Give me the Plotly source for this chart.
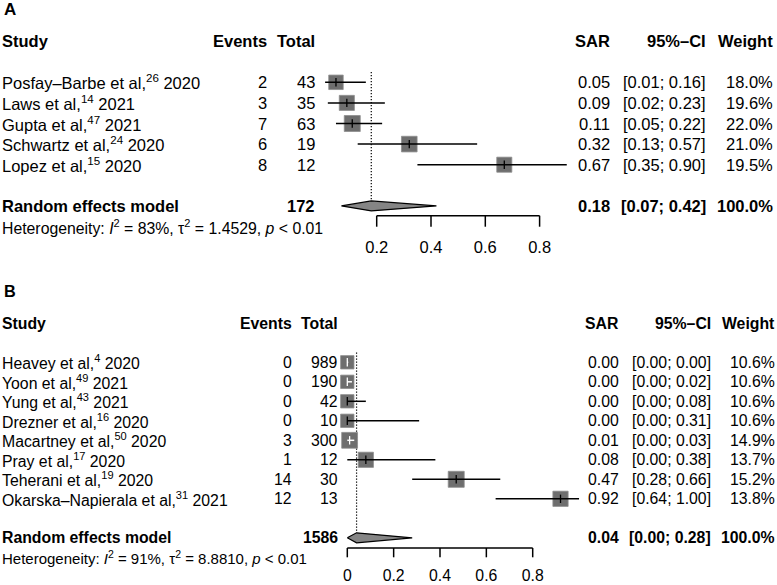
import math
import plotly.graph_objects as go

# ---------------- data: panel A ----------------
study_a = ["Posfay–Barbe et al", "Laws et al", "Gupta et al", "Schwartz et al", "Lopez et al"]
ref_a = [26, 14, 47, 24, 15]
year_a = [2020, 2021, 2021, 2020, 2020]
events_a = [2, 3, 7, 6, 8]
total_a = [43, 35, 63, 19, 12]
sar_a = [0.05, 0.09, 0.11, 0.32, 0.67]
lower_a = [0.01, 0.02, 0.05, 0.13, 0.35]
upper_a = [0.16, 0.23, 0.22, 0.57, 0.90]
weight_a = [18.0, 19.6, 22.0, 21.0, 19.5]
re_total_a = 172
re_sar_a = 0.18
re_lower_a = 0.07
re_upper_a = 0.42
re_weight_a = 100.0
i2_a = 83
tau2_a = 1.4529
ticks_a = [0.2, 0.4, 0.6, 0.8]
tick_labels_a = ["0.2", "0.4", "0.6", "0.8"]

# ---------------- data: panel B ----------------
study_b = ["Heavey et al", "Yoon et al", "Yung et al", "Drezner et al",
           "Macartney et al", "Pray et al", "Teherani et al", "Okarska–Napierala et al"]
ref_b = [4, 49, 43, 16, 50, 17, 19, 31]
year_b = [2020, 2021, 2021, 2020, 2020, 2020, 2020, 2021]
events_b = [0, 0, 0, 0, 3, 1, 14, 12]
total_b = [989, 190, 42, 10, 300, 12, 30, 13]
sar_b = [0.00, 0.00, 0.00, 0.00, 0.01, 0.08, 0.47, 0.92]
lower_b = [0.00, 0.00, 0.00, 0.00, 0.00, 0.00, 0.28, 0.64]
upper_b = [0.004, 0.02, 0.08, 0.31, 0.03, 0.38, 0.66, 1.00]
weight_b = [10.6, 10.6, 10.6, 10.6, 14.9, 13.7, 15.2, 13.8]
re_total_b = 1586
re_sar_b = 0.04
re_lower_b = 0.00
re_upper_b = 0.28
re_weight_b = 100.0
i2_b = 91
tau2_b = 8.8810
ticks_b = [0, 0.2, 0.4, 0.6, 0.8]
tick_labels_b = ["0", "0.2", "0.4", "0.6", "0.8"]

# ---------------- layout constants ----------------
W, H = 777, 585
FONT = "Liberation Sans, Arial, Helvetica, sans-serif"
SQ_COLOR = "#6e6e6e"
SQ_EDGE = "#8e8e8e"
DIA_COLOR = "#858585"

panels = [
    dict(label="A", study=study_a, ref=ref_a, year=year_a, events=events_a, total=total_a,
         sar=sar_a, lo=lower_a, hi=upper_a, w=weight_a,
         re=(re_total_a, re_sar_a, re_lower_a, re_upper_a, re_weight_a), i2=i2_a, tau2=tau2_a,
         ticks=ticks_a, tlabels=tick_labels_a,
         x0=322.4, pxu=271.5, row1=82.3, rowh=20.6, fs=16.5, fs_het=15.8,
         c_ev=267.5, c_tot=315.5, c_sar=610.5, c_ci=707.0, c_w=773.5,
         re_row=7, het_row=8, head_row=-1, lab_row=-2.53,
         axis_row=7.476, tick_end=8.01, tlab_row=9.09, xa="x", ya="y"),
    dict(label="B", study=study_b, ref=ref_b, year=year_b, events=events_b, total=total_b,
         sar=sar_b, lo=lower_b, hi=upper_b, w=weight_b,
         re=(re_total_b, re_sar_b, re_lower_b, re_upper_b, re_weight_b), i2=i2_b, tau2=tau2_b,
         ticks=ticks_b, tlabels=tick_labels_b,
         x0=347.3, pxu=231.75, row1=362.3, rowh=19.5, fs=15.8, fs_het=15.0,
         c_ev=293.0, c_tot=338.5, c_sar=620.0, c_ci=712.0, c_w=775.5,
         re_row=10, het_row=11, head_row=-1, lab_row=-2.66,
         axis_row=10.523, tick_end=11.0, tlab_row=12.03, xa="x2", ya="y2"),
]

fig = go.Figure()
annotations = []


def ann(text, xpx, row, yref, size, anchor="left", bold=False):
    annotations.append(dict(
        text=text,
        x=xpx / W, xref="paper", y=row, yref=yref,
        xanchor=anchor, yanchor="middle", showarrow=False,
        font=dict(family=FONT, size=size, color="black",
                  weight="bold" if bold else "normal"), borderpad=0))


layout_axes = {}
for i, p in enumerate(panels):
    xa, ya = p["xa"], p["ya"]
    n = len(p["study"])
    rows = list(range(1, n + 1))
    pxu = p["pxu"]
    re_total, re_est, re_lo, re_hi, re_w = p["re"]
    dia_h = 5.0 / p["rowh"]

    # reference (dotted) line at the pooled estimate
    fig.add_trace(go.Scatter(x=[re_est, re_est], y=[0.5, p["re_row"] - dia_h], mode="lines",
                             line=dict(color="black", width=1.2, dash="1.2px,1.8px"),
                             xaxis=xa, yaxis=ya, hoverinfo="skip", showlegend=False))

    # squares
    wmax = max(p["w"])
    sizes = [16.0 * math.sqrt(w / wmax) for w in p["w"]]
    fig.add_trace(go.Scatter(x=p["sar"], y=rows, mode="markers",
                             marker=dict(symbol="square", size=sizes, color=SQ_COLOR, opacity=1,
                                         line=dict(width=0.8, color=SQ_EDGE)),
                             xaxis=xa, yaxis=ya, hoverinfo="skip", showlegend=False))

    # confidence intervals (white when entirely inside the square)
    inside = []
    for s, lo, hi, sz in zip(p["sar"], p["lo"], p["hi"], sizes):
        half = (sz + 0.8) / 2.0 / pxu
        inside.append(lo >= s - half and hi <= s + half)
    for col, flag in (("black", False), ("white", True)):
        xs, ys = [], []
        for r, lo, hi, ins in zip(rows, p["lo"], p["hi"], inside):
            if ins == flag:
                xs += [lo, hi, None]
                ys += [r, r, None]
        if xs:
            fig.add_trace(go.Scatter(x=xs, y=ys, mode="lines",
                                     line=dict(color=col, width=1.5),
                                     xaxis=xa, yaxis=ya, hoverinfo="skip", showlegend=False))
    fig.add_trace(go.Scatter(x=p["sar"], y=rows, mode="markers",
                             marker=dict(symbol="line-ns", size=6,
                                         line=dict(width=1.3,
                                                   color=["white" if f else "black" for f in inside])),
                             xaxis=xa, yaxis=ya, hoverinfo="skip", showlegend=False))

    # diamond
    rr = p["re_row"]
    fig.add_trace(go.Scatter(x=[re_lo, re_est, re_hi, re_est, re_lo],
                             y=[rr, rr - dia_h, rr, rr + dia_h, rr],
                             mode="lines", fill="toself", fillcolor=DIA_COLOR,
                             line=dict(color="black", width=1.2),
                             xaxis=xa, yaxis=ya, hoverinfo="skip", showlegend=False))

    # x axis
    t = p["ticks"]
    fig.add_trace(go.Scatter(x=[t[0], t[-1]], y=[p["axis_row"]] * 2, mode="lines",
                             line=dict(color="black", width=1.5),
                             xaxis=xa, yaxis=ya, hoverinfo="skip", showlegend=False))
    tx, ty = [], []
    for v in t:
        tx += [v, v, None]
        ty += [p["axis_row"], p["tick_end"], None]
    fig.add_trace(go.Scatter(x=tx, y=ty, mode="lines", line=dict(color="black", width=1.5),
                             xaxis=xa, yaxis=ya, hoverinfo="skip", showlegend=False))
    fig.add_trace(go.Scatter(x=t, y=[p["tlab_row"]] * len(t), mode="text", text=p["tlabels"],
                             textposition="middle center",
                             textfont=dict(family=FONT, size=p["fs"], color="black"),
                             xaxis=xa, yaxis=ya, hoverinfo="skip", showlegend=False))

    # texts
    yref = ya
    fs = p["fs"]
    ann(p["label"], 3, p["lab_row"], yref, fs + 0.5, bold=True)
    hr = p["head_row"]
    ann("Study", 1, hr, yref, fs, bold=True)
    ann("Events", p["c_ev"], hr, yref, fs, "right", True)
    ann("Total", p["c_tot"], hr, yref, fs, "right", True)
    ann("SAR", p["c_sar"], hr, yref, fs, "right", True)
    ann("95%–CI", p["c_ci"], hr, yref, fs, "right", True)
    ann("Weight", p["c_w"], hr, yref, fs, "right", True)
    for r, nm, rf, yr, ev, tot, s, lo, hi, w in zip(rows, p["study"], p["ref"], p["year"],
                                                    p["events"], p["total"], p["sar"],
                                                    p["lo"], p["hi"], p["w"]):
        ann("%s,<sup>%d</sup> %d" % (nm, rf, yr), 1, r, yref, fs)
        ann(str(ev), p["c_ev"], r, yref, fs, "right")
        ann(str(tot), p["c_tot"], r, yref, fs, "right")
        ann("%.2f" % s, p["c_sar"], r, yref, fs, "right")
        ann("[%.2f; %.2f]" % (lo, hi), p["c_ci"], r, yref, fs, "right")
        ann("%.1f%%" % w, p["c_w"], r, yref, fs, "right")
    ann("Random effects model", 1, rr, yref, fs, bold=True)
    ann(str(re_total), p["c_tot"], rr, yref, fs, "right", True)
    ann("%.2f" % re_est, p["c_sar"], rr, yref, fs, "right", True)
    ann("[%.2f; %.2f]" % (re_lo, re_hi), p["c_ci"], rr, yref, fs, "right", True)
    ann("%.1f%%" % re_w, p["c_w"], rr, yref, fs, "right", True)
    ann("Heterogeneity: <i>I</i><sup>2</sup> = %d%%, τ<sup>2</sup> = %.4f, <i>p</i> &lt; 0.01"
        % (p["i2"], p["tau2"]), 1, p["het_row"], yref, p["fs_het"])

    # axes (pixel-calibrated ranges)
    xr = [-p["x0"] / pxu, (W - p["x0"]) / pxu]
    r_top = 1 - p["row1"] / p["rowh"]
    r_bot = 1 + (H - p["row1"]) / p["rowh"]
    suffix = "" if i == 0 else "2"
    layout_axes["xaxis" + suffix] = dict(domain=[0, 1], range=xr, visible=False,
                                         anchor="y" + suffix, fixedrange=True)
    layout_axes["yaxis" + suffix] = dict(domain=[0, 1], range=[r_bot, r_top], visible=False,
                                         anchor="x" + suffix, fixedrange=True)

fig.update_layout(
    width=W, height=H, autosize=False,
    margin=dict(l=0, r=0, t=0, b=0, pad=0),
    paper_bgcolor="white", plot_bgcolor="rgba(0,0,0,0)",
    showlegend=False, annotations=annotations,
    font=dict(family=FONT, color="black"),
    **layout_axes,
)

fig.write_html("out.html", config={"displayModeBar": False},
               post_script="document.body.style.margin='0';document.body.style.overflow='hidden';")
